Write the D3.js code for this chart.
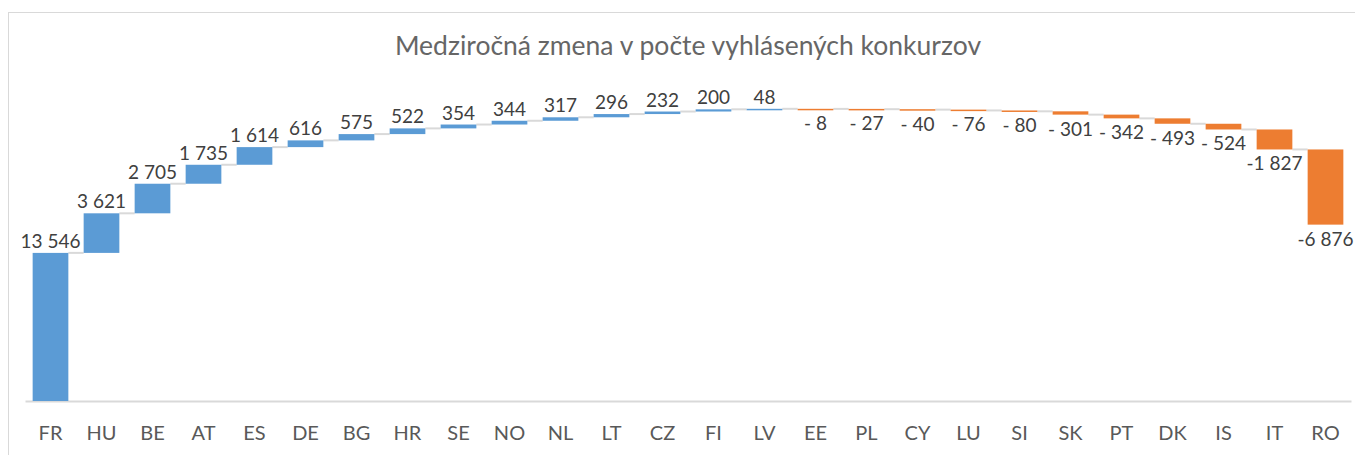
<!DOCTYPE html>
<html>
<head>
<meta charset="utf-8">
<script src="https://cdnjs.cloudflare.com/ajax/libs/d3/7.8.5/d3.min.js"></script>
<style>
  body { margin: 0; background: #fff; }
  text { font-family: Lato, "Open Sans", sans-serif; }
</style>
</head>
<body>
<div id="chart-area"></div>
<script>
var countries = ["FR", "HU", "BE", "AT", "ES", "DE", "BG", "HR", "SE", "NO", "NL", "LT", "CZ",
                 "FI", "LV", "EE", "PL", "CY", "LU", "SI", "SK", "PT", "DK", "IS", "IT", "RO"];
var changes = [13546, 3621, 2705, 1735, 1614, 616, 575, 522, 354, 344, 317, 296, 232,
               200, 48, -8, -27, -40, -76, -80, -301, -342, -493, -524, -1827, -6876];
var yMax = 30000;
var title = "Medziročná zmena v počte vyhlásených konkurzov";

var width = 1355, height = 455;
var blue = "#5b9bd5", orange = "#ed7d31", grid = "#d9d9d9";

// running totals for the waterfall
var steps = [];
var total = 0;
changes.forEach(function(d, i) {
  var start = total;
  total += d;
  steps.push({ name: countries[i], value: d, start: start, end: total });
});

var svg = d3.select("#chart-area").append("svg")
  .attr("width", width)
  .attr("height", height);

// chart frame
svg.append("rect")
  .attr("x", 8.5).attr("y", 12.5)
  .attr("width", 1400).attr("height", 500)
  .attr("fill", "none")
  .attr("stroke", grid);

svg.append("text")
  .attr("x", 688).attr("y", 55)
  .attr("text-anchor", "middle")
  .attr("font-size", "26.5px")
  .attr("fill", "#666666")
  .text(title);

var x = d3.scaleBand()
  .domain(countries)
  .range([25, 1351])
  .paddingInner(0.3)
  .paddingOuter(0.15);

var y = d3.scaleLinear()
  .domain([0, yMax])
  .range([401, 73]);

var fmt = d3.formatLocale({ decimal: ",", thousands: " ", grouping: [3], currency: ["", ""] }).format(",d");
function label(d) {
  if (d >= 0) return fmt(d);
  return Math.abs(d) < 1000 ? "- " + fmt(-d) : "-" + fmt(-d);
}

// connectors
svg.append("g").selectAll("line")
  .data(steps.slice(0, -1))
  .enter().append("line")
  .attr("x1", function(d) { return x(d.name) + x.bandwidth(); })
  .attr("x2", function(d, i) { return x(steps[i + 1].name); })
  .attr("y1", function(d) { return y(d.end); })
  .attr("y2", function(d) { return y(d.end); })
  .attr("stroke", grid)
  .attr("stroke-width", 2);

// axis
var xAxis = svg.append("g")
  .attr("transform", "translate(0," + y(0) + ")")
  .call(d3.axisBottom(x).tickSize(0).tickPadding(25));
xAxis.select(".domain").attr("stroke", grid).attr("stroke-width", 2);
xAxis.selectAll("text")
  .attr("font-size", "20px")
  .attr("fill", "#595959")
  .style("font-family", "Lato, sans-serif");

// bars
svg.append("g").selectAll("rect")
  .data(steps)
  .enter().append("rect")
  .attr("x", function(d) { return x(d.name); })
  .attr("width", x.bandwidth())
  .attr("y", function(d) { return y(Math.max(d.start, d.end)); })
  .attr("height", function(d) { return Math.max(1.5, Math.abs(y(d.start) - y(d.end))); })
  .attr("fill", function(d) { return d.value >= 0 ? blue : orange; });

// data labels
svg.append("g").selectAll("text")
  .data(steps)
  .enter().append("text")
  .attr("x", function(d) { return x(d.name) + x.bandwidth() / 2; })
  .attr("y", function(d) { return d.value >= 0 ? y(d.end) - 5 : y(d.end) + 21; })
  .attr("text-anchor", "middle")
  .attr("font-size", "19px")
  .attr("fill", "#404040")
  .text(function(d) { return label(d.value); });
</script>
</body>
</html>
